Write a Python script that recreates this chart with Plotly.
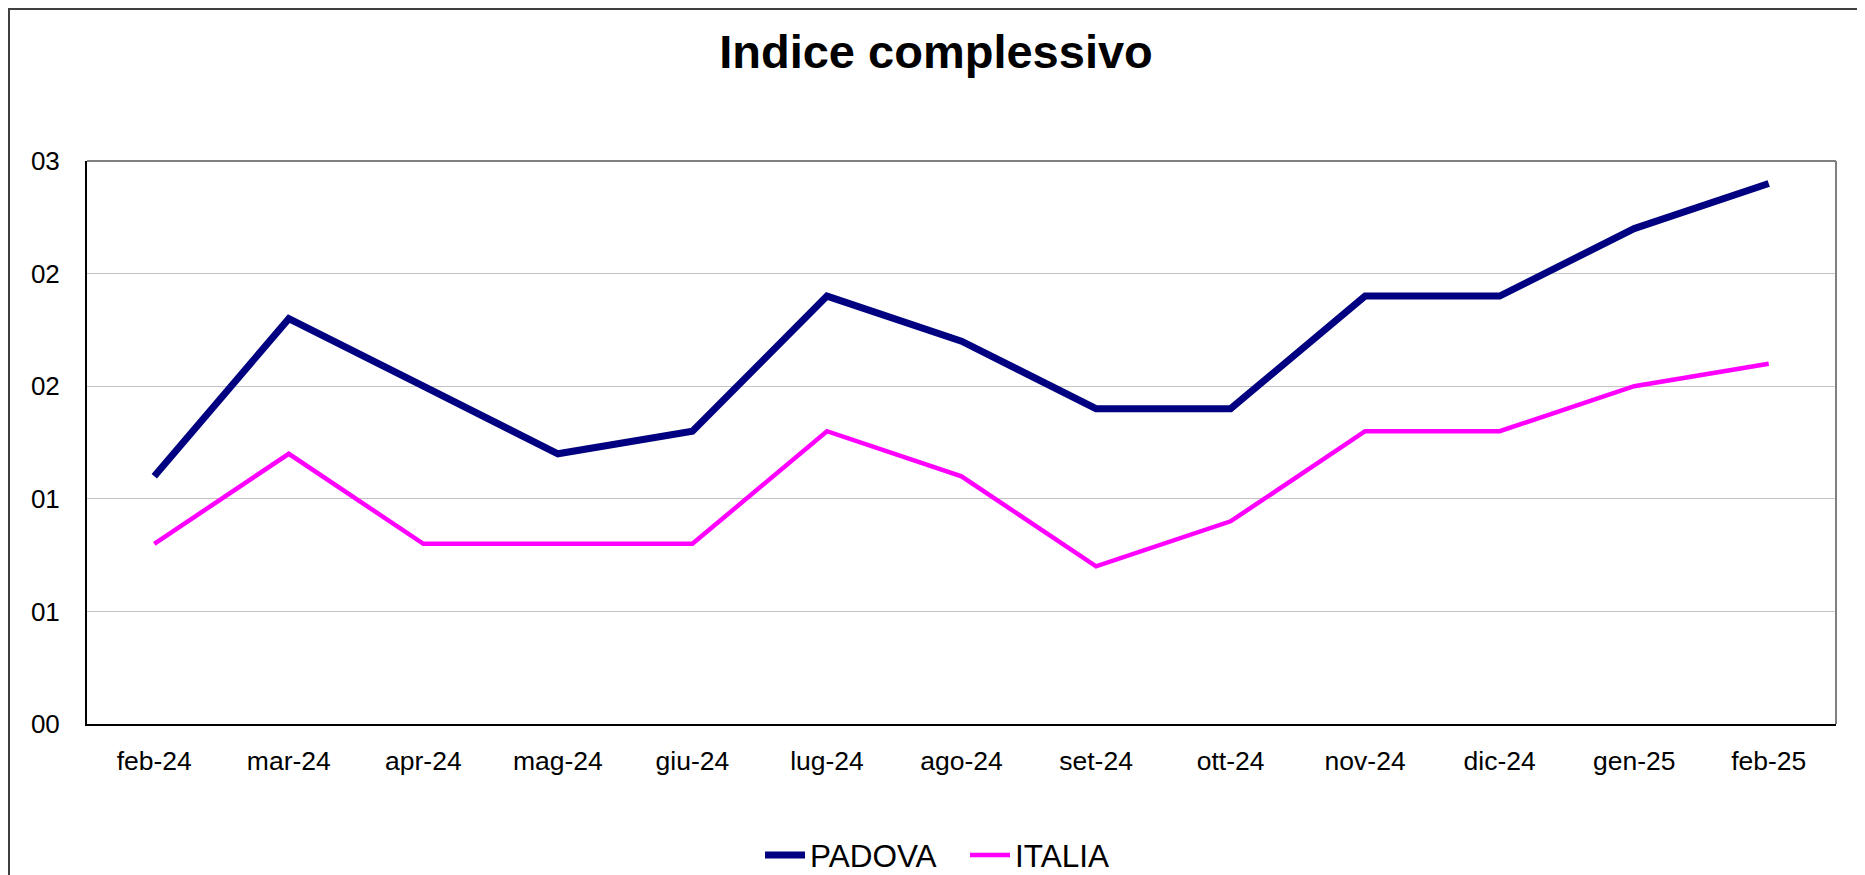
import plotly.graph_objects as go

months = ["feb-24", "mar-24", "apr-24", "mag-24", "giu-24", "lug-24", "ago-24",
          "set-24", "ott-24", "nov-24", "dic-24", "gen-25", "feb-25"]
padova = [1.1, 1.8, 1.5, 1.2, 1.3, 1.9, 1.7, 1.4, 1.4, 1.9, 1.9, 2.2, 2.4]
italia = [0.8, 1.2, 0.8, 0.8, 0.8, 1.3, 1.1, 0.7, 0.9, 1.3, 1.3, 1.5, 1.6]
y_tickvals = [0, 0.5, 1.0, 1.5, 2.0, 2.5]
y_ticktext = ["00", "01", "01", "02", "02", "03"]

FONT = "Liberation Sans, Arial, sans-serif"
OFF = 8  # body margin of the html page
W, H = 1865 - OFF, 875 - OFF
# plot area in page pixels: x 87..1836, y 161..724
L = 87 - OFF
T = 161 - OFF
R = W - (1836 - OFF)
B = H - (724 - OFF)
pw, ph = W - L - R, H - T - B

def px_x(x_page):
    return (x_page - OFF - L) / pw

def px_y(y_page):
    return (H - B - (y_page - OFF)) / ph

fig = go.Figure()
fig.add_trace(go.Scatter(x=months, y=padova, name="PADOVA", mode="lines",
                         line=dict(color="#000080", width=7)))
fig.add_trace(go.Scatter(x=months, y=italia, name="ITALIA", mode="lines",
                         line=dict(color="#FF00FF", width=4.5)))

fig.update_layout(
    width=W, height=H,
    margin=dict(l=L, r=R, t=T, b=B, autoexpand=False),
    paper_bgcolor="white", plot_bgcolor="white",
    font=dict(family=FONT, size=26, color="black"),
    title=dict(text="<b>Indice complessivo</b>", x=(936 - OFF) / W, xanchor="center",
               y=1 - (52 - OFF) / H, yanchor="middle",
               font=dict(family=FONT, size=47, color="black")),
    showlegend=True,
    legend=dict(orientation="h", x=px_x(760), xanchor="left",
                y=px_y(855), yanchor="middle",
                font=dict(family=FONT, size=31.5, color="black"),
                itemwidth=40, tracegroupgap=0, entrywidth=150),
    xaxis=dict(type="category", showgrid=False, showline=True, linecolor="black",
               linewidth=2, mirror=False, ticks="", ticklabelstandoff=12,
               tickfont=dict(size=26.5), range=[-0.5, 12.5], zeroline=False),
    yaxis=dict(range=[0, 2.5], tickvals=y_tickvals, ticktext=y_ticktext,
               showgrid=True, gridcolor="#c4c4c4", gridwidth=1,
               showline=True, linecolor="black", linewidth=2, ticks="",
               ticklabelstandoff=20, tickfont=dict(size=26), zeroline=False),
)

# top and right gray frame of plot area
fig.add_shape(type="line", xref="paper", yref="paper", x0=0, x1=1, y0=1, y1=1,
              line=dict(color="#808080", width=2))
fig.add_shape(type="line", xref="paper", yref="paper", x0=1, x1=1, y0=0, y1=1,
              line=dict(color="#808080", width=2))
# outer chart border
fig.add_shape(type="rect", xref="paper", yref="paper",
              x0=px_x(OFF + 1), x1=px_x(1862), y0=px_y(890), y1=px_y(OFF + 1),
              line=dict(color="#404040", width=2), fillcolor="rgba(0,0,0,0)",
              layer="below")

fig.write_html("out.html")
